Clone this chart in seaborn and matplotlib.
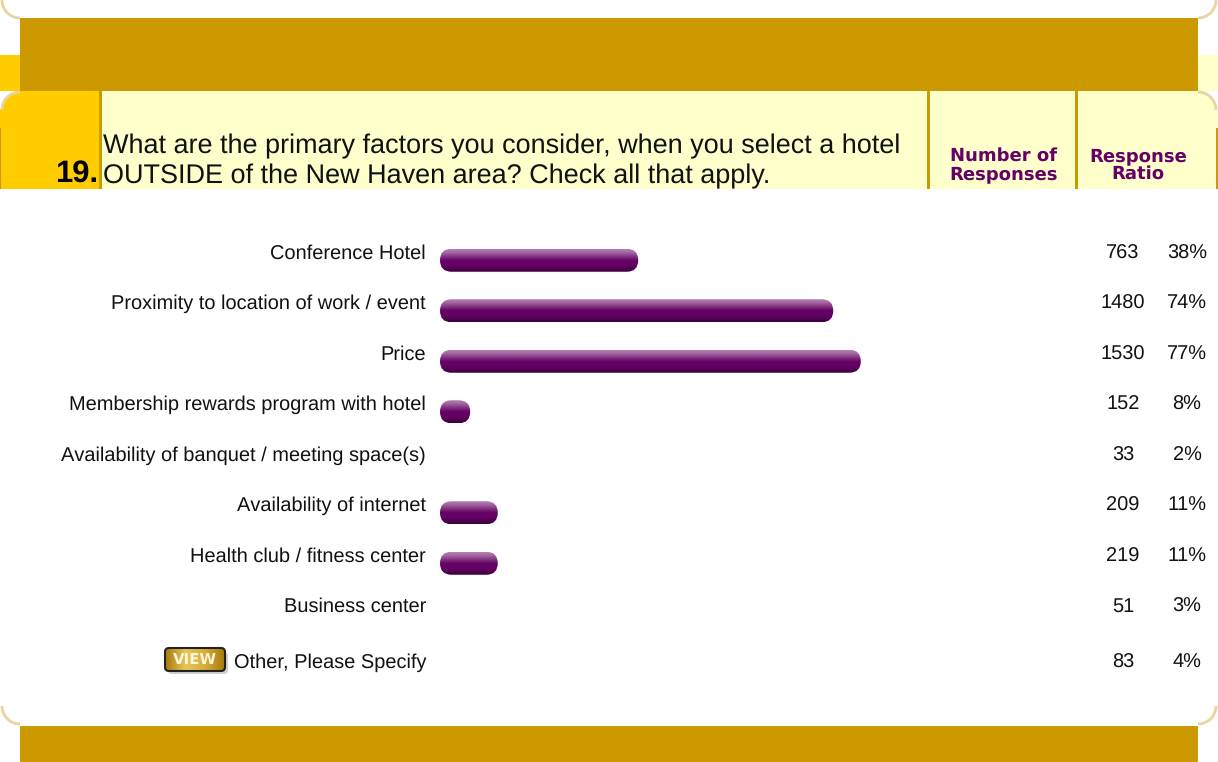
import numpy as np
import pandas as pd
import seaborn as sns
import matplotlib.pyplot as plt
from matplotlib.patches import Arc, FancyBboxPatch, Rectangle, Wedge
from matplotlib.colors import LinearSegmentedColormap

factors = [
    "Conference Hotel",
    "Proximity to location of work / event",
    "Price",
    "Membership rewards program with hotel",
    "Availability of banquet / meeting space(s)",
    "Availability of internet",
    "Health club / fitness center",
    "Business center",
    "Other, Please Specify",
]
# how far each bar reaches (rows 5, 8, 9 show no bar)
bar_extent = [37.4, 74.2, 79.4, 5.7, 0, 10.9, 10.9, 0, 0]
counts = ["763", "1480", "1530", "152", "33", "209", "219", "51", "83"]
ratios = ["38%", "74%", "77%", "8%", "2%", "11%", "11%", "3%", "4%"]

question_no = "19."
question = [
    "What are the primary factors you consider, when you select a hotel",
    "OUTSIDE of the New Haven area? Check all that apply.",
]

GOLD = "#CC9900"
YELLOW = "#FFCC00"
PALE = "#FFFFCC"
ARC = "#E8D4A0"
W, H = 1218, 762

sns.set_theme(style="white")
plt.rcParams["font.family"] = ["Liberation Sans", "DejaVu Sans"]
plt.rcParams["text.hinting"] = "no_hinting"
plt.rcParams["text.hinting_factor"] = 1

fig = plt.figure(figsize=(W / 100, H / 100), dpi=100, facecolor="white")

# page furniture, in pixel coordinates
bg = fig.add_axes([0, 0, 1, 1])
bg.axis("off")


def box(x0, y0, x1, y1, color):
    bg.add_patch(Rectangle((x0, y0), x1 - x0, y1 - y0, fc=color, ec="none"))


box(0, 55, 20, 91, YELLOW)
box(1198, 55, W, 91, PALE)
box(20, 18, 1198, 91, GOLD)
box(0, 109, 99, 189, YELLOW)
box(18, 91, 99, 110, YELLOW)
box(99, 91, 102, 189, GOLD)
box(102, 91, 1198, 189, PALE)
box(1198, 110, W, 189, PALE)
box(927, 91, 930, 189, GOLD)
box(1075, 91, 1078, 189, GOLD)
box(20, 726, 1198, H, GOLD)
box(1216, 128, W, 189, GOLD)
box(0, 128, 1, 189, GOLD)

# rounded corners of the header row
bg.add_patch(Wedge((20, 110), 19, 180, 270, fc=YELLOW, ec="none"))
bg.add_patch(Wedge((1198, 110), 19, 270, 360, fc=PALE, ec="none"))

for cx, cy, t1, t2 in [
    (20, 0, 90, 180), (1198, 0, 0, 90),
    (20, 110, 180, 270), (1198, 110, 270, 360),
    (20, 706, 90, 180), (1198, 706, 0, 90),
]:
    bg.add_patch(Arc((cx, cy), 36, 36, theta1=t1, theta2=t2, color=ARC, lw=2))

bg.text(98.5, 182, question_no, ha="right", va="baseline", fontsize=22, fontweight="bold", color="black")
bg.text(103, 153, question[0], ha="left", va="baseline", fontsize=19.2, color="#111111")
bg.text(103, 183, question[1], ha="left", va="baseline", fontsize=19.2, color="#111111")

head = dict(ha="center", va="baseline", fontsize=13, fontweight="bold", color="#660066", family="DejaVu Sans")
bg.text(1004, 161, "Number of", **head)
bg.text(1004, 179, "Responses", **head)
bg.text(1138, 161, "Response", **head)
bg.text(1138, 179, "Ratio", **head)

# VIEW button
bg.add_patch(FancyBboxPatch((168, 652), 60, 22, boxstyle="round,pad=0,rounding_size=4",
                            fc="#AAAAAA", ec="none", alpha=0.55))
btn = FancyBboxPatch((165, 648), 60, 23, boxstyle="round,pad=0,rounding_size=4",
                     fc="none", ec="#222222", lw=1.5, zorder=4)
bg.add_patch(btn)
btn_shade = LinearSegmentedColormap.from_list("btn", ["#A87C10", "#E6C65C", "#D8AE3C", "#A87C10"])
im = bg.imshow(np.linspace(0, 1, 32).reshape(1, -1), cmap=btn_shade, extent=(165, 225, 671, 648),
               aspect="auto", zorder=3)
im.set_clip_path(btn)
bg.text(195, 660, "VIEW", ha="center", va="center", fontsize=11, fontweight="bold",
        color="#FFF6D8", family="DejaVu Sans", zorder=5)

bg.set_xlim(0, W)
bg.set_ylim(H, 0)

# the chart itself; one percent is 5.3 px and one row is 50.5 px
X0, PX = 440, 5.3
top, row = 235, 50.5
ax = fig.add_axes([X0 / W, 1 - (top + 9 * row) / H, (W - X0) / W, 9 * row / H])
ax.patch.set_alpha(0)
df = pd.DataFrame({"factor": factors, "extent": bar_extent})
sns.barplot(data=df, x="extent", y="factor", ax=ax, color="#660066", width=23 / row, saturation=1)
ax.set_xlabel("")
ax.set_ylabel("")
ax.set_xticks([])
ax.set_yticks([])
sns.despine(ax=ax, left=True, bottom=True)

# swap the flat bars for the shaded pill look
shade = LinearSegmentedColormap.from_list(
    "pill", ["#B580B2", "#A060A0", "#80307E", "#660066", "#660066", "#560056", "#3C003C"]
)
grad = np.linspace(0, 1, 64).reshape(-1, 1)
for p in list(ax.patches):
    w, h = p.get_width(), p.get_height()
    if w <= 0:
        p.remove()
        continue
    x, y = p.get_x(), p.get_y()
    p.set_visible(False)
    pill = FancyBboxPatch((x, y), w, h, boxstyle=f"round,pad=0,rounding_size={11.5 / PX}",
                          mutation_aspect=PX / row, fc="none", ec="none")
    ax.add_patch(pill)
    im = ax.imshow(grad, cmap=shade, extent=(x, x + w, y + h, y), aspect="auto", zorder=3)
    im.set_clip_path(pill)
ax.set_xlim(0, (W - X0) / PX)
ax.set_ylim(8.5, -0.5)

# row texts sit a little above the bar centre, the last row has the button and sits lower
for i, name in enumerate(factors):
    dy = 2 if i == len(factors) - 1 else 7
    txt = dict(xycoords=("data", "data"), textcoords="offset pixels", va="center",
               fontsize=14.4, color="#111111", annotation_clip=False)
    ax.annotate(name, (0, i), xytext=(-14, dy), ha="right", **txt)
    ax.annotate(counts[i], (0, i), xytext=(1123 - X0, dy), ha="center", **txt)
    ax.annotate(ratios[i], (0, i), xytext=(1187 - X0, dy), ha="center", **txt)

fig.savefig("out.png", dpi=100, facecolor="white")
